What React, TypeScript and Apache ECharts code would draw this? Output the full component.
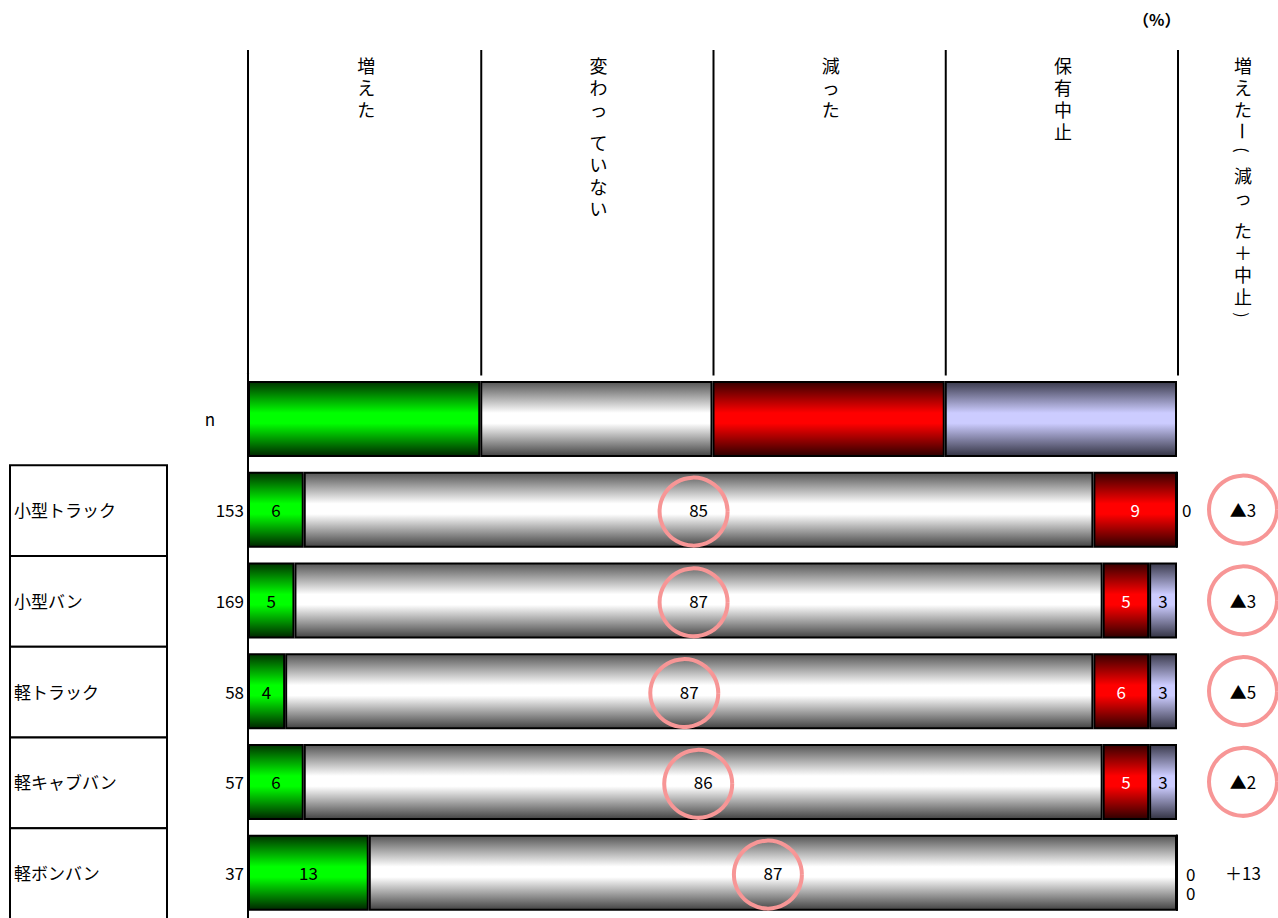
import React, { useEffect, useRef } from 'react';
import * as echarts from 'echarts';

// ---- data ----
const headers = ['増えた', '変わっ ていない', '減った', '保有中止'];
const diffHeader = '増えたー(減っ た＋中止)';
const percentLabel = '（%）';
const nLabel = 'n';
const categories = ['小型トラック', '小型バン', '軽トラック', '軽キャブバン', '軽ボンバン'];
const nValues = [153, 169, 58, 57, 37];
const increased = [6, 5, 4, 6, 13];
const unchanged = [85, 87, 87, 86, 87];
const decreased = [9, 5, 6, 5, 0];
const stopped = [0, 3, 3, 3, 0];
const diffLabels = ['▲3', '▲3', '▲5', '▲2', '＋13'];
const diffCircled = [true, true, true, true, false];
const legendShare = [25, 25, 25, 25];

const FONT = '"Noto Sans CJK JP", "Noto Sans", sans-serif';
const PINK = '#f79696';
const ROTATED = ['ー', '(', ')'];

function grad(dark: string, bright: string, dark2: string) {
  return {
    type: 'linear', x: 0, y: 0, x2: 0, y2: 1,
    colorStops: [
      { offset: 0, color: dark },
      { offset: 0.42, color: bright },
      { offset: 0.56, color: bright },
      { offset: 1, color: dark2 },
    ],
  };
}

export default function App() {
  const ref = useRef<HTMLDivElement>(null);

  useEffect(() => {
    document.body.style.margin = '0';
    const chart = echarts.init(ref.current as HTMLDivElement, null, { renderer: 'svg' });

    const segs = [
      { name: headers[0], values: increased, color: grad('#003300', '#00ff00', '#002800'), labelColor: '#000' },
      { name: headers[1], values: unchanged, color: grad('#555555', '#ffffff', '#444444'), labelColor: '#000' },
      { name: headers[2], values: decreased, color: grad('#380000', '#ff0000', '#300000'), labelColor: '#fff' },
      { name: headers[3], values: stopped, color: grad('#3a3a4c', '#ccccff', '#343444'), labelColor: '#000' },
    ];

    const barSeries = segs.map((s, si) => ({
      type: 'bar',
      name: s.name,
      stack: 'all',
      barWidth: 76,
      itemStyle: { color: s.color, borderColor: '#000', borderWidth: 2 },
      label: { show: true, position: 'inside', color: s.labelColor, fontSize: 17, fontFamily: FONT },
      data: [
        { value: legendShare[si], label: { show: false } },
        ...s.values.map((v, i) => {
          if (v === 0) {
            const before = segs.slice(0, si).filter((o) => o.values[i] === 0).length;
            const total = segs.filter((o) => o.values[i] === 0).length;
            return {
              value: v,
              label: {
                show: true, position: 'right', distance: total > 1 ? 8 : 4, color: '#000',
                lineHeight: 17,
                offset: [0, before * 19 + (total > 1 ? 1 : 0)],
              },
            };
          }
          return v;
        }),
      ],
    }));

    const headerSeries = {
      type: 'custom',
      clip: false,
      silent: true,
      z: 5,
      data: [[0, 0]],
      renderItem: (params: any, api: any) => {
        const cs = params.coordSys;
        const children: any[] = [];
        [0, 25, 50, 75, 100].forEach((b) => {
          const x = api.coord([b, 0])[0] + (b > 0 ? 1 : 0);
          children.push({
            type: 'line',
            shape: { x1: x, y1: 50, x2: x, y2: cs.y + 2 },
            style: { stroke: '#000', lineWidth: 2 },
          });
        });
        const titles = [
          ...headers.map((h, i) => ({ text: h, x: api.coord([i * 25 + 12.5, 0])[0] + 2 })),
          { text: diffHeader, x: api.coord([100, 0])[0] + 66 },
        ];
        titles.forEach((t) => {
          let y = 65;
          for (const ch of Array.from(t.text)) {
            if (ch === ' ') { y += 11; continue; }
            const rot = ROTATED.includes(ch);
            const paren = ch === '(' || ch === ')';
            children.push({
              type: 'text',
              x: t.x,
              y: paren ? y - 3 : y,
              rotation: rot ? -Math.PI / 2 : 0,
              style: {
                text: ch, fill: '#000', font: `${paren ? 16 : 18}px ${FONT}`,
                lineHeight: 19,
                align: 'center', verticalAlign: 'middle',
              },
            });
            y += 22;
          }
        });
        return { type: 'group', children };
      },
    };

    const tableSeries = {
      type: 'custom',
      clip: false,
      silent: true,
      z: 5,
      data: categories.map((_, i) => [0, i + 1]),
      renderItem: (params: any, api: any) => {
        const cy = api.coord([0, api.value(1)])[1];
        const h = api.size([0, 1])[1];
        return {
          type: 'group',
          children: [
            { type: 'rect', shape: { x: 10, y: cy - h / 2 + 1, width: 157, height: h }, style: { fill: '#fff', stroke: '#000', lineWidth: 2 } },
            { type: 'text', x: 14, y: cy, style: { text: categories[params.dataIndex], fill: '#000', font: `17px ${FONT}`, align: 'left', verticalAlign: 'middle' } },
          ],
        };
      },
    };

    const circleSeries = {
      type: 'custom',
      clip: false,
      silent: true,
      z: 6,
      data: categories.map((_, i) => [increased[i] + unchanged[i] / 2, i + 1]),
      renderItem: (params: any, api: any) => {
        const p = api.coord([api.value(0), api.value(1)]);
        return {
          type: 'circle',
          shape: { cx: p[0] - 5, cy: p[1] + 2, r: 34 },
          style: { fill: 'none', stroke: PINK, lineWidth: 4 },
        };
      },
    };

    const diffSeries = {
      type: 'custom',
      clip: false,
      silent: true,
      z: 6,
      data: categories.map((_, i) => [100, i + 1]),
      renderItem: (params: any, api: any) => {
        const p = api.coord([100, api.value(1)]);
        const cx = p[0] + 66;
        const children: any[] = [];
        if (diffCircled[params.dataIndex]) {
          children.push({ type: 'circle', shape: { cx, cy: p[1], r: 34 }, style: { fill: 'none', stroke: PINK, lineWidth: 4 } });
        }
        children.push({
          type: 'text', x: cx, y: p[1],
          style: { text: diffLabels[params.dataIndex], fill: '#000', font: `17px ${FONT}`, align: 'center', verticalAlign: 'middle' },
        });
        return { type: 'group', children };
      },
    };

    chart.setOption({
      animation: false,
      backgroundColor: '#fff',
      grid: { left: 248, right: 101, top: 373.5, bottom: -2, containLabel: false },
      xAxis: { type: 'value', min: 0, max: 100, show: false },
      yAxis: {
        type: 'category',
        inverse: true,
        data: [nLabel, ...categories],
        axisTick: { show: false },
        axisLine: { show: true, lineStyle: { color: '#000', width: 2 } },
        axisLabel: {
          margin: 4,
          color: '#000',
          fontSize: 17,
          fontFamily: FONT,
          formatter: (v: string, i: number) => (i === 0 ? `{n|${nLabel}}` : String(nValues[i - 1])),
          rich: { n: { fontSize: 17, fontFamily: FONT, color: '#000', padding: [0, 29, 0, 0] } },
        },
      },
      graphic: [
        {
          type: 'text', left: 1133, top: 11,
          style: { text: percentLabel, fill: '#000', font: `bold 16px ${FONT}` },
        },
      ],
      series: [tableSeries, headerSeries, ...barSeries, circleSeries, diffSeries],
    });

    return () => chart.dispose();
  }, []);

  return <div ref={ref} style={{ width: 1278, height: 918 }} />;
}
